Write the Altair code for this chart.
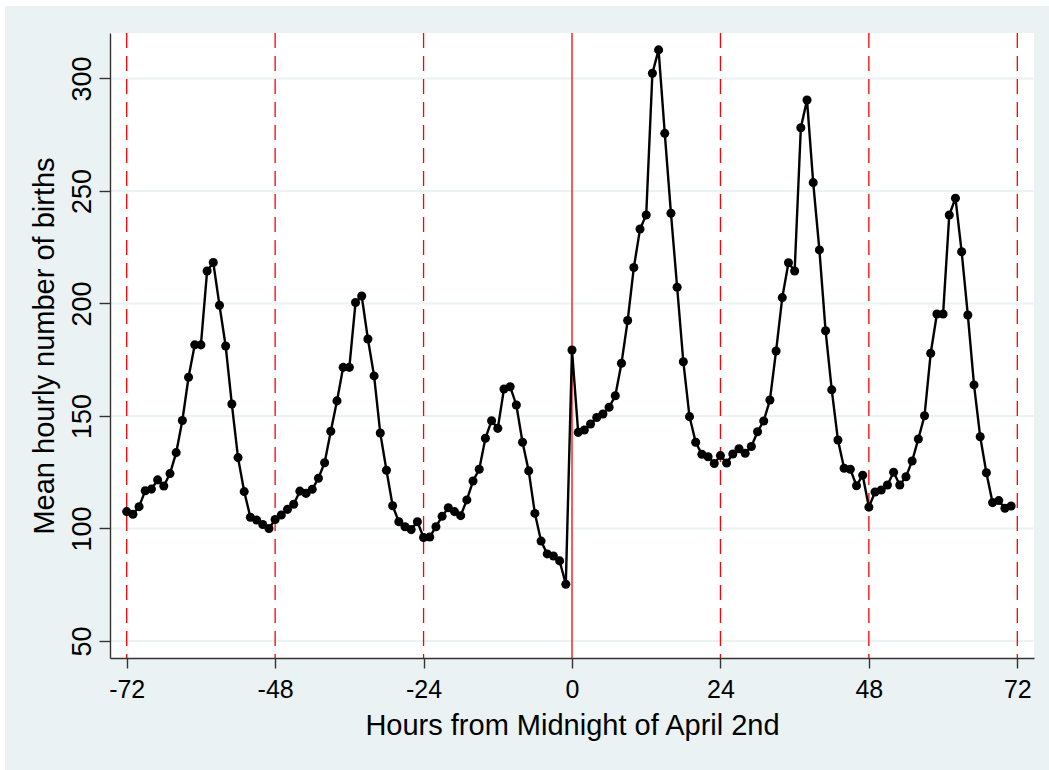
import altair as alt
import pandas as pd

hours = list(range(-72, 72))
births = [
    107.5, 106.3, 109.7, 116.8, 117.5, 121.6, 118.9, 124.4, 133.7, 148.0,
    167.2, 181.6, 181.6, 214.4, 218.2, 199.2, 181.1, 155.3, 131.5, 116.4,
    105.0, 103.8, 101.8, 100.0, 104.0, 106.0, 108.5, 110.8, 116.6, 115.6,
    117.4, 122.3, 129.2, 143.2, 156.7, 171.6, 171.6, 200.4, 203.3, 184.2,
    167.8, 142.4, 125.9, 110.1, 103.0, 100.8, 99.5, 103.0, 96.0, 96.2,
    100.8, 105.4, 109.2, 107.5, 105.7, 112.7, 121.1, 126.3, 140.1, 147.9,
    144.5, 162.0, 163.0, 154.9, 138.3, 125.6, 106.7, 94.4, 88.7, 87.8,
    85.6, 75.2, 179.3, 142.7, 143.8, 146.4, 149.3, 150.9, 153.9, 159.0,
    173.4, 192.4, 216.0, 233.1, 239.3, 302.3, 312.7, 275.6, 240.1, 207.2,
    174.1, 149.7, 138.3, 133.0, 131.9, 128.9, 132.4, 129.1, 133.1, 135.4,
    133.4, 136.4, 143.0, 147.8, 157.1, 178.9, 202.6, 218.1, 214.4, 278.1,
    290.4, 253.7, 223.8, 187.9, 161.6, 139.3, 126.8, 126.3, 119.0, 123.7,
    109.5, 116.2, 117.1, 119.3, 125.0, 119.3, 123.0, 130.0, 139.8, 150.1,
    177.9, 195.3, 195.3, 239.3, 246.8, 223.0, 194.9, 163.8, 140.8, 124.8,
    111.5, 112.4, 109.0, 110.0,
]
x_ticks = [-72, -48, -24, 0, 24, 48, 72]
y_ticks = [50, 100, 150, 200, 250, 300]
dashed_lines = [-72, -48, -24, 24, 48, 72]
solid_lines = [0]

W, H = 924, 625
BG = "#eaf2f3"
FONT = "Liberation Sans"

df = pd.DataFrame({"hour": hours, "births": births})
xs = alt.Scale(domain=[-74.7, 74.7], nice=False, zero=False)
ys = alt.Scale(domain=[42.44, 320.2], nice=False, zero=False)

one = pd.DataFrame({"a": [0]})

bg = alt.Chart(one).mark_rect(color=BG).encode(
    x=alt.value(-105), x2=alt.value(939), y=alt.value(-27), y2=alt.value(737)
)
panel = alt.Chart(one).mark_rect(color="white").encode(
    x=alt.value(0), x2=alt.value(W), y=alt.value(0), y2=alt.value(H)
)
grid = alt.Chart(pd.DataFrame({"g": y_ticks})).mark_rule(
    color=BG, strokeWidth=2
).encode(y=alt.Y("g:Q", scale=ys))

dashed = alt.Chart(pd.DataFrame({"v": dashed_lines})).mark_rule(
    color="#ff0000", strokeWidth=1.3, strokeDash=[15, 8]
).encode(x=alt.X("v:Q", scale=xs))
solid = alt.Chart(pd.DataFrame({"v": solid_lines})).mark_rule(
    color="#ff0000", strokeWidth=1.3
).encode(x=alt.X("v:Q", scale=xs))

x_axis = alt.Axis(
    values=x_ticks, grid=False, title="Hours from Midnight of April 2nd",
    labelExpr="'' + datum.value",
    labelFontSize=25, titleFontSize=29, labelPadding=9, titlePadding=9,
    tickSize=10, domainColor="#333333", tickColor="#333333",
    domainWidth=1.4, tickWidth=1.4, labelColor="black", titleColor="black",
    labelFont=FONT, titleFont=FONT, titleFontWeight="normal", zindex=1,
    labelFlush=False,
)
y_axis = alt.Axis(
    values=y_ticks, grid=False, title="Mean hourly number of births",
    labelExpr="'' + datum.value",
    labelFontSize=27, titleFontSize=29, labelPadding=9, titlePadding=9,
    labelAngle=270, labelAlign="center", labelBaseline="alphabetic",
    tickSize=11, domainColor="#333333", tickColor="#333333",
    domainWidth=1.4, tickWidth=1.4, labelColor="black", titleColor="black",
    labelFont=FONT, titleFont=FONT, titleFontWeight="normal", zindex=1,
    labelFlush=False,
)

line = alt.Chart(df).mark_line(color="black", strokeWidth=2.4).encode(
    x=alt.X("hour:Q", scale=xs, axis=x_axis),
    y=alt.Y("births:Q", scale=ys, axis=y_axis),
)
pts = alt.Chart(df).mark_point(filled=True, color="black", size=82, opacity=1).encode(
    x=alt.X("hour:Q", scale=xs),
    y=alt.Y("births:Q", scale=ys),
)

chart = alt.layer(bg, panel, grid, dashed, solid, line, pts).properties(
    width=W, height=H,
    padding={"left": 5, "top": 6, "right": 0, "bottom": 0},
    background="white",
).configure_view(stroke=None)

chart.save("out.html", embed_options={"renderer": "svg", "actions": False})
